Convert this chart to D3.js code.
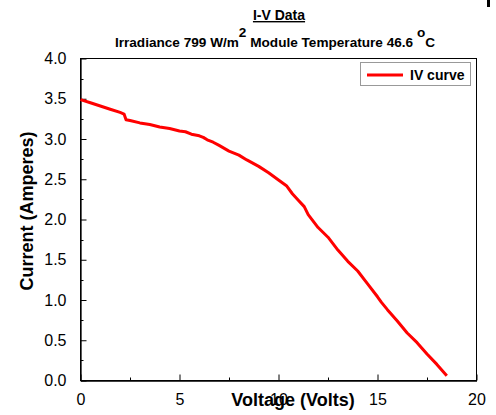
<!DOCTYPE html>
<html>
<head>
<meta charset="utf-8">
<script src="https://cdn.jsdelivr.net/npm/d3@7"></script>
<style>
  body { margin: 0; background: #fff; }
  svg { font-family: "Liberation Sans", Arial, sans-serif; }
</style>
</head>
<body>
<svg id="chart" width="496" height="415"></svg>
<script>
// IV curve
const voltage = [0, 0.5, 1.0, 1.5, 2.0, 2.2, 2.3, 2.5, 3.0, 3.5, 4.0, 4.5, 5.0, 5.3, 5.6, 6.0, 6.2, 6.4, 6.7, 7.0,
                 7.5, 8.0, 8.4, 9.0, 9.5, 10.0, 10.4, 10.7, 11.0, 11.3, 11.5, 12.0, 12.5, 13.0, 13.5, 14.0, 14.5,
                 15.0, 15.2, 15.5, 16.0, 16.5, 17.0, 17.5, 18.0, 18.5]
const current = [3.49, 3.45, 3.41, 3.37, 3.33, 3.31, 3.24, 3.23, 3.20, 3.18, 3.15, 3.13, 3.10, 3.09, 3.06, 3.04, 3.02, 2.99, 2.96, 2.92,
                 2.85, 2.80, 2.74, 2.66, 2.58, 2.49, 2.42, 2.32, 2.24, 2.16, 2.06, 1.90, 1.78, 1.62, 1.48, 1.36, 1.20,
                 1.04, 0.97, 0.88, 0.74, 0.59, 0.47, 0.33, 0.20, 0.06]
const xTicks = [0, 5, 10, 15, 20]
const yTicks = [0, 0.5, 1.0, 1.5, 2.0, 2.5, 3.0, 3.5, 4.0]
const seriesName = "IV curve"

const svg = d3.select("#chart")
const margin = {left: 80.5, right: 476.5, top: 58.5, bottom: 380.5}

const x = d3.scaleLinear().domain([0, 20]).range([margin.left, margin.right])
const y = d3.scaleLinear().domain([0, 4]).range([margin.bottom, margin.top])

// frame
svg.append("rect")
    .attr("x", margin.left).attr("y", margin.top)
    .attr("width", margin.right - margin.left).attr("height", margin.bottom - margin.top)
    .attr("fill", "none").attr("stroke", "#000").attr("stroke-width", 1)

// minor ticks (inward)
svg.append("g").selectAll("line")
    .data(d3.range(0, 4.01, 0.25).filter(v => Math.abs(v * 2 - Math.round(v * 2)) > 0.01))
    .enter().append("line")
    .attr("x1", margin.left).attr("x2", margin.left + 3)
    .attr("y1", d => Math.round(y(d)) + 0.5).attr("y2", d => Math.round(y(d)) + 0.5)
    .attr("stroke", "#000")
svg.append("g").selectAll("line")
    .data([2.5, 7.5, 12.5, 17.5])
    .enter().append("line")
    .attr("y1", margin.bottom).attr("y2", margin.bottom - 3)
    .attr("x1", d => Math.round(x(d)) + 0.5).attr("x2", d => Math.round(x(d)) + 0.5)
    .attr("stroke", "#000")

// axes with major ticks pointing in
const xAxis = svg.append("g")
    .attr("transform", `translate(0,${margin.bottom})`)
    .call(d3.axisBottom(x).tickValues(xTicks).tickSizeInner(-6).tickSizeOuter(0).tickPadding(13).tickFormat(d3.format("d")))
const yAxis = svg.append("g")
    .attr("transform", `translate(${margin.left},0)`)
    .call(d3.axisLeft(y).tickValues(yTicks).tickSizeInner(-6).tickSizeOuter(0).tickPadding(14).tickFormat(d3.format(".1f")))

for (const ax of [xAxis, yAxis]) {
    ax.select(".domain").attr("stroke", "#000").attr("stroke-width", 1.3)
    ax.selectAll(".tick line").attr("stroke", "#000")
    ax.selectAll("text").attr("font-size", 16).attr("fill", "#000")
        .style("font-family", "Liberation Sans, Arial, sans-serif")
}

// curve
const line = d3.line().x(d => x(d[0])).y(d => y(d[1]))
svg.append("path")
    .datum(voltage.map((v, i) => [v, current[i]]))
    .attr("d", line)
    .attr("fill", "none")
    .attr("stroke", "#ff0000")
    .attr("stroke-width", 3)
    .attr("stroke-linejoin", "round")

// axis titles
svg.append("text")
    .attr("x", 293).attr("y", 406)
    .attr("text-anchor", "middle")
    .attr("font-size", 18).attr("font-weight", "bold")
    .text("Voltage (Volts)")
svg.append("text")
    .attr("transform", "translate(33,211) rotate(-90)")
    .attr("text-anchor", "middle")
    .attr("font-size", 18).attr("font-weight", "bold")
    .text("Current (Amperes)")

// titles
svg.append("text")
    .attr("x", 279).attr("y", 20)
    .attr("text-anchor", "middle")
    .attr("font-size", 14).attr("font-weight", "bold")
    .attr("text-decoration", "underline")
    .text("I-V Data")

const sub = svg.append("text")
    .attr("x", 275).attr("y", 47)
    .attr("text-anchor", "middle")
    .attr("font-size", 13.6).attr("font-weight", "bold")
sub.append("tspan").text("Irradiance 799 W/m")
sub.append("tspan").attr("dy", -10).text("2")
sub.append("tspan").attr("dy", 10).text("  Module Temperature 46.6 ")
sub.append("tspan").attr("dy", -10).text("o")
sub.append("tspan").attr("dy", 10).text("C")

// legend
const legend = svg.append("g")
legend.append("rect")
    .attr("x", 360.5).attr("y", 62.5).attr("width", 110).attr("height", 23)
    .attr("fill", "#fff").attr("stroke", "#999")
legend.append("line")
    .attr("x1", 367).attr("x2", 403).attr("y1", 75).attr("y2", 75)
    .attr("stroke", "#ff0000").attr("stroke-width", 3)
legend.append("text")
    .attr("x", 410).attr("y", 80)
    .attr("font-size", 14).attr("font-weight", "bold")
    .text(seriesName)

// small mark at top right corner
svg.append("rect")
    .attr("x", 487).attr("y", 0).attr("width", 3).attr("height", 7)
    .attr("fill", "#000")
</script>
</body>
</html>
